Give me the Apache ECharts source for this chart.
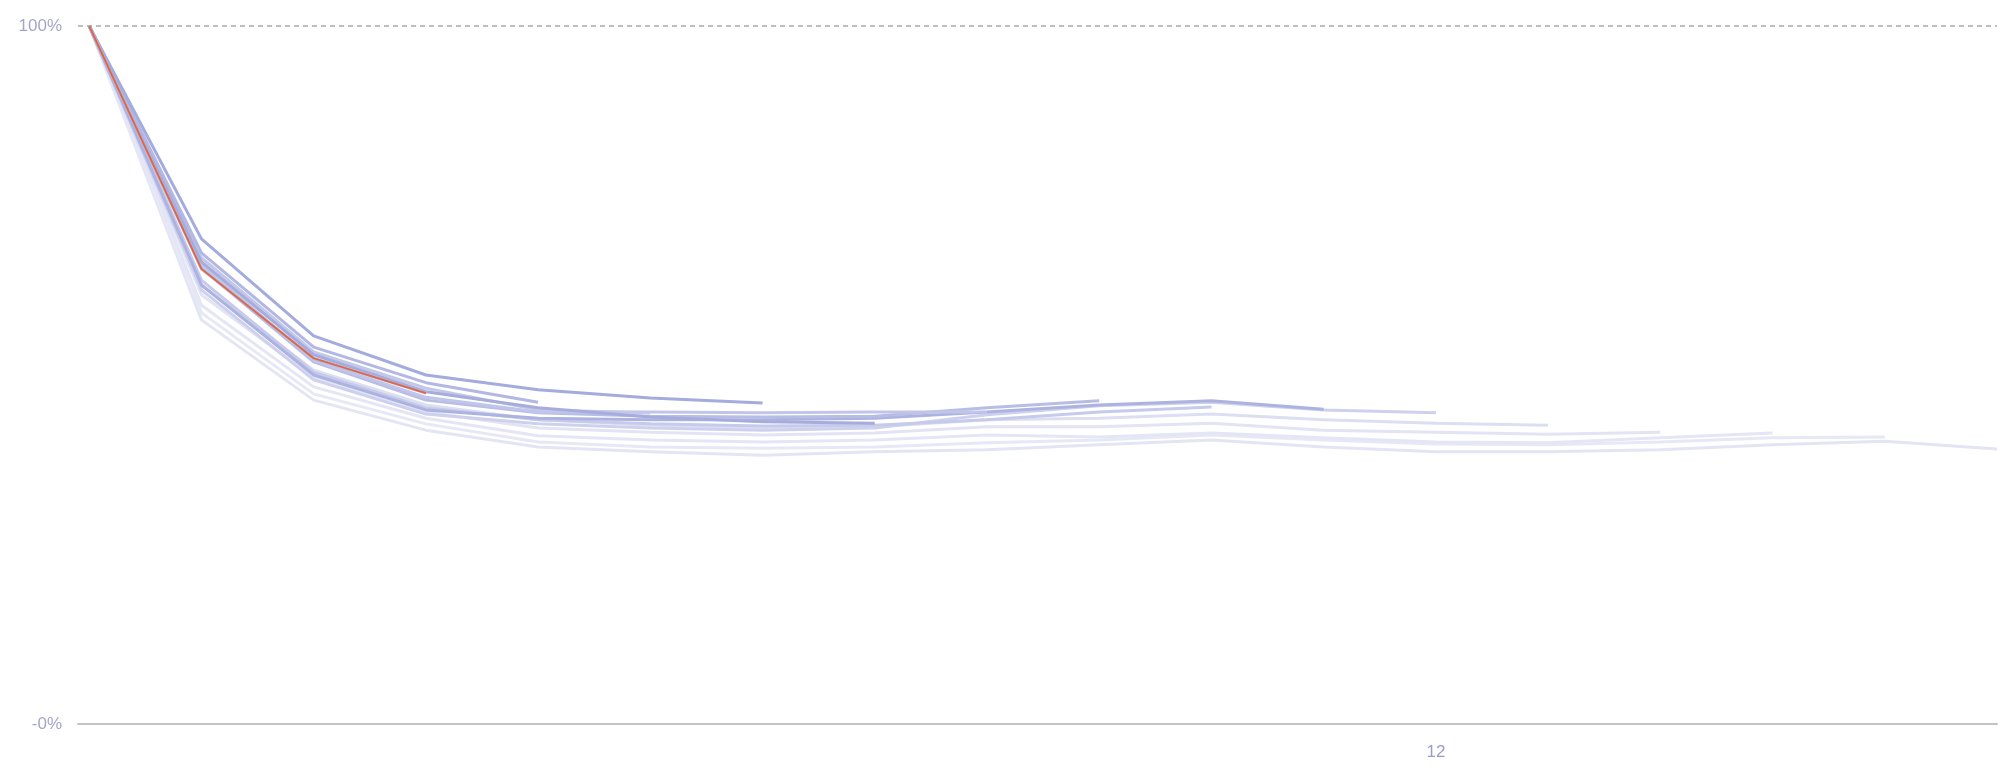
<!DOCTYPE html>
<html>
<head>
<meta charset="utf-8">
<script src="https://cdn.jsdelivr.net/npm/echarts@6/dist/echarts.min.js"></script>
<style>
  html, body { margin: 0; padding: 0; background: #fff; }
  #chart { width: 1999px; height: 769px; }
</style>
</head>
<body>
<div id="chart"></div>
<script>
// retention per cohort, % of users still active, month index 0..n
var cohortM3  = [100, 65.2, 52.4, 47.4];
var cohortM4  = [100, 67.5, 54.0, 48.9, 46.1];
var cohortM5  = [100, 66.8, 53.3, 48.1, 45.0, 44.6];
var cohortM6  = [100, 69.5, 55.6, 50.0, 47.9, 46.7, 46.0];
var cohortM7  = [100, 66.2, 52.9, 47.6, 45.3, 44.0, 43.3, 43.1];
var cohortM8  = [100, 65.8, 52.1, 46.8, 44.7, 44.7, 44.6, 44.7, 44.7];
var cohortM9  = [100, 65.3, 51.9, 46.4, 44.6, 44.1, 44.0, 44.1, 45.3, 46.3];
var cohortM10 = [100, 63.6, 50.4, 45.3, 43.6, 43.0, 42.7, 42.8, 43.6, 44.7, 45.4];
var cohortM11 = [100, 62.9, 50.0, 45.0, 43.8, 43.6, 43.6, 43.8, 44.7, 45.7, 46.3, 45.1];
var cohortM12 = [100, 62.2, 49.3, 44.4, 43.0, 42.4, 42.1, 42.4, 44.3, 45.6, 46.1, 45.0, 44.6];
var cohortM13 = [100, 62.9, 50.7, 45.7, 43.6, 42.8, 42.4, 42.6, 43.6, 43.8, 44.4, 43.6, 43.1, 42.8];
var cohortM14 = [100, 61.5, 49.6, 44.7, 42.4, 41.8, 41.4, 41.7, 42.6, 42.6, 43.1, 42.1, 41.8, 41.5, 41.8];
var cohortM15 = [100, 60.0, 48.3, 43.8, 41.3, 40.7, 40.4, 40.7, 41.4, 41.1, 41.7, 41.0, 40.4, 40.3, 41.0, 41.7];
var cohortM16 = [100, 58.9, 47.3, 43.0, 40.4, 39.7, 39.5, 39.7, 40.3, 40.7, 41.4, 40.7, 40.1, 40.0, 40.4, 41.0, 41.1];
var cohortM17 = [100, 57.9, 46.4, 42.1, 39.7, 39.0, 38.5, 39.0, 39.3, 40.0, 40.7, 39.7, 39.0, 39.0, 39.3, 40.0, 40.5, 39.4];

var xLabelValues = [12];
var yLabelValues = [0, 100];

// oldest first so the lighter lines sit underneath
var cohorts = [
  { data: cohortM17, color: '#e3e5f4' },
  { data: cohortM16, color: '#e6e8f6' },
  { data: cohortM15, color: '#e4e6f5' },
  { data: cohortM14, color: '#e2e4f4' },
  { data: cohortM13, color: '#dcdff2' },
  { data: cohortM12, color: '#cdd1ee' },
  { data: cohortM10, color: '#c6cbeb' },
  { data: cohortM11, color: '#adb3e0' },
  { data: cohortM9,  color: '#b8bde6' },
  { data: cohortM8,  color: '#c0c5e9' },
  { data: cohortM5,  color: '#c3c7ea' },
  { data: cohortM7,  color: '#a6addd' },
  { data: cohortM4,  color: '#b2b8e3' },
  { data: cohortM6,  color: '#a4abdd' },
  { data: cohortM3,  color: '#b0b6e2' }
];

function toPoints(arr) {
  return arr.map(function (v, i) { return [i, v]; });
}

var series = cohorts.map(function (c) {
  return {
    type: 'line',
    data: toPoints(c.data),
    showSymbol: false,
    silent: true,
    lineStyle: { width: 3, color: c.color },
    emphasis: { disabled: true }
  };
});

// latest cohort highlighted
series.push({
  type: 'line',
  data: toPoints(cohortM3),
  showSymbol: false,
  silent: true,
  lineStyle: { width: 1.8, color: '#e5653b' },
  emphasis: { disabled: true },
  z: 5
});

series[0].markLine = {
  silent: true,
  symbol: 'none',
  label: { show: false },
  lineStyle: { type: [5, 4], color: '#a9a9a9', width: 1.5 },
  data: [{ yAxis: 100 }]
};

var chart = echarts.init(document.getElementById('chart'));
chart.setOption({
  animation: false,
  grid: { left: 78, right: 2, top: 26, bottom: 45 },
  xAxis: {
    type: 'value',
    min: -0.1,
    max: 17,
    axisLine: { show: true, lineStyle: { color: '#c4c4c4', width: 2 } },
    axisTick: { show: false },
    splitLine: { show: false },
    axisLabel: {
      customValues: xLabelValues,
      color: '#9a9dc4',
      fontSize: 17,
      fontFamily: 'Liberation Sans, Arial, sans-serif',
      margin: 20
    }
  },
  yAxis: {
    type: 'value',
    min: 0,
    max: 100,
    axisLine: { show: false },
    axisTick: { show: false },
    splitLine: { show: false },
    axisLabel: {
      customValues: yLabelValues,
      color: '#a3a6c8',
      fontSize: 17,
      fontFamily: 'Liberation Sans, Arial, sans-serif',
      margin: 16,
      formatter: function (v) { return v === 0 ? '-0%' : v + '%'; }
    }
  },
  series: series
});
</script>
</body>
</html>
